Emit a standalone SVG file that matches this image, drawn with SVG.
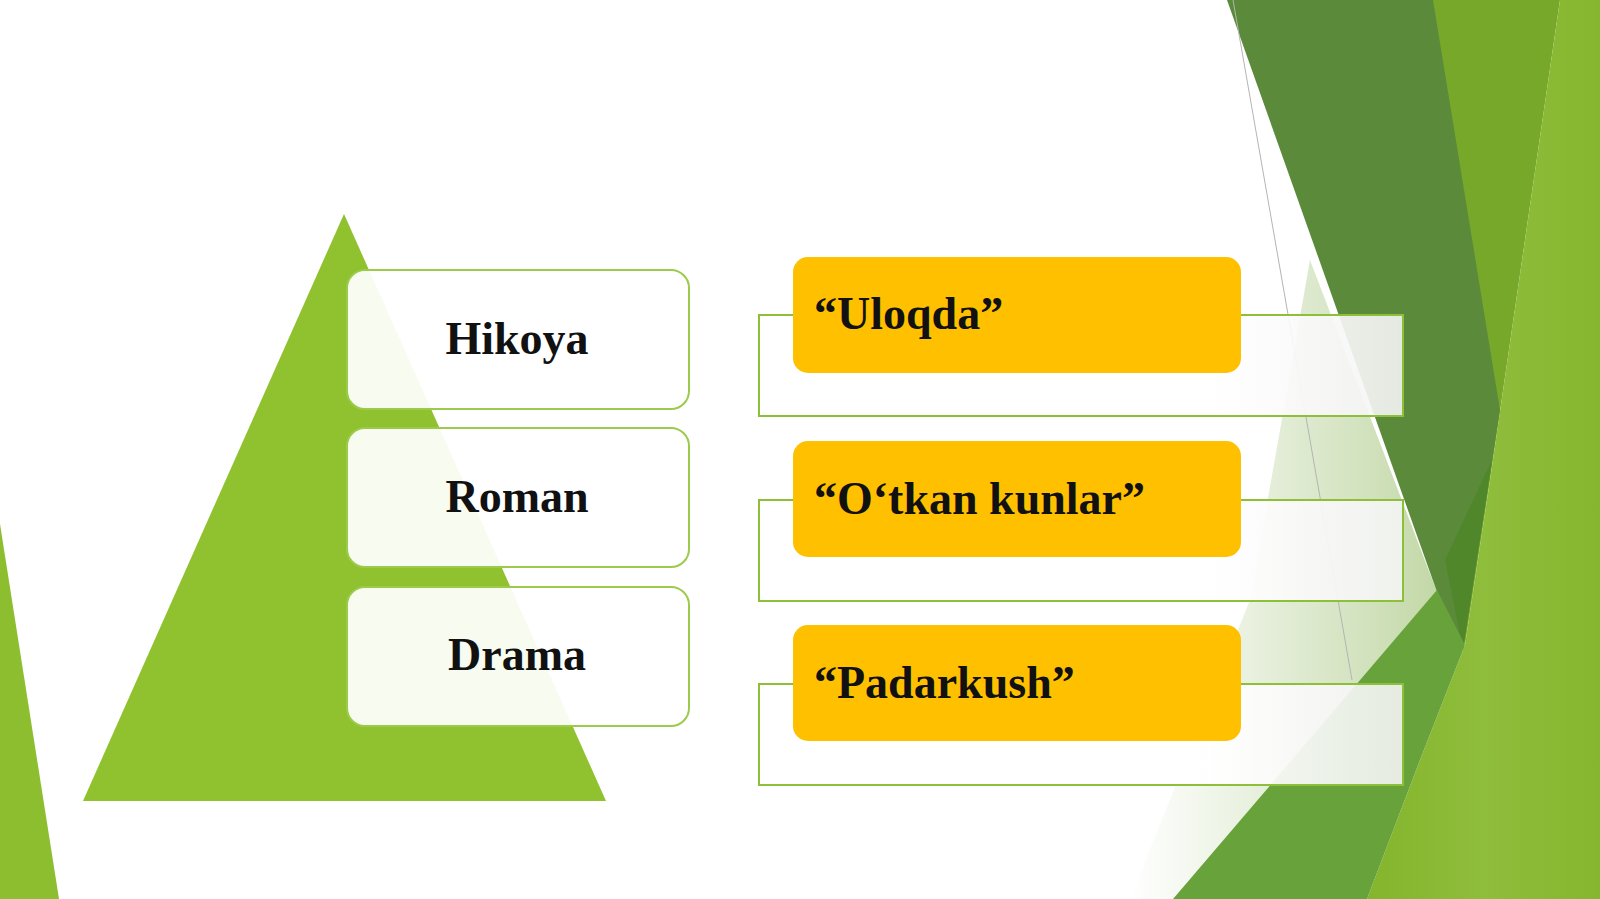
<svg xmlns="http://www.w3.org/2000/svg" width="1600" height="899" viewBox="0 0 1600 899">
<defs>
<style>
.lbox{fill:#ffffff;fill-opacity:.93;stroke:#9ccb4c;stroke-width:2}
.frame{fill:url(#frameGrad);stroke:#8dbf38;stroke-width:2}
.ybox{fill:#ffc000}
.t{font-family:"Liberation Serif","Times New Roman",serif;font-weight:bold;font-size:46px;fill:#111111}
</style>
<linearGradient id="frameGrad" x1="0" y1="0" x2="1" y2="0">
<stop offset="0" stop-color="#ffffff" stop-opacity="0.97"/>
<stop offset="0.7" stop-color="#ffffff" stop-opacity="0.95"/>
<stop offset="1" stop-color="#f4f4f4" stop-opacity="0.9"/>
</linearGradient>
<linearGradient id="paleGrad" x1="0" y1="0" x2="1" y2="0">
<stop offset="0" stop-color="#c9dcb0" stop-opacity="0"/>
<stop offset="0.6" stop-color="#c4d9aa" stop-opacity="0.6"/>
<stop offset="1" stop-color="#b8d197" stop-opacity="0.85"/>
</linearGradient>
<linearGradient id="lightGrad" x1="0" y1="0" x2="1" y2="0">
<stop offset="0" stop-color="#84b52c"/>
<stop offset="0.5" stop-color="#8fbd3c"/>
<stop offset="1" stop-color="#86b62f"/>
</linearGradient>
</defs>
<rect x="0" y="0" width="1600" height="899" fill="#ffffff"/>
<g id="background">
<polygon points="0,524 59,899 0,899" fill="#8dbe2f"/>
<polygon points="1310,260 1437,592 1173,899 1130,899 1250,600" fill="url(#paleGrad)"/>
<polygon points="1433,0 1560,0 1490,480 1465,645 1437,592" fill="#77a82a"/>
<polygon points="1560,0 1600,0 1600,899 1367,899 1420,760 1465,645 1490,480" fill="url(#lightGrad)"/>
<polygon points="1227,0 1433,0 1500,410 1463,650 1437,592" fill="#5b8a3b"/>
<polygon points="1445,560 1492,460 1463,650" fill="#4f8628" opacity="0.8"/>
<polygon points="1437,590 1465,645 1420,760 1367,899 1173,899" fill="#68a23a"/>
<line x1="1233" y1="0" x2="1352" y2="680" stroke="#b4b4b4" stroke-width="1"/>
</g>
<g id="pyramid">
<polygon points="344,214 606,801 83,801" fill="#90c12e"/>
</g>
<g id="node-hikoya">
<rect class="lbox" x="347" y="270" width="342" height="139" rx="18"/>
<text class="t" x="517" y="354" text-anchor="middle">Hikoya</text>
</g>
<g id="node-roman">
<rect class="lbox" x="347" y="428" width="342" height="139" rx="18"/>
<text class="t" x="517" y="512" text-anchor="middle">Roman</text>
</g>
<g id="node-drama">
<rect class="lbox" x="347" y="587" width="342" height="139" rx="18"/>
<text class="t" x="517" y="670" text-anchor="middle">Drama</text>
</g>
<g id="node-uloqda">
<rect class="frame" x="759" y="315" width="644" height="101"/>
<rect class="ybox" x="793" y="257" width="448" height="116" rx="15"/>
<text class="t" x="814" y="329">“Uloqda”</text>
</g>
<g id="node-otkan-kunlar">
<rect class="frame" x="759" y="500" width="644" height="101"/>
<rect class="ybox" x="793" y="441" width="448" height="116" rx="15"/>
<text class="t" x="814" y="514">“O‘tkan kunlar”</text>
</g>
<g id="node-padarkush">
<rect class="frame" x="759" y="684" width="644" height="101"/>
<rect class="ybox" x="793" y="625" width="448" height="116" rx="15"/>
<text class="t" x="814" y="698">“Padarkush”</text>
</g>
</svg>
